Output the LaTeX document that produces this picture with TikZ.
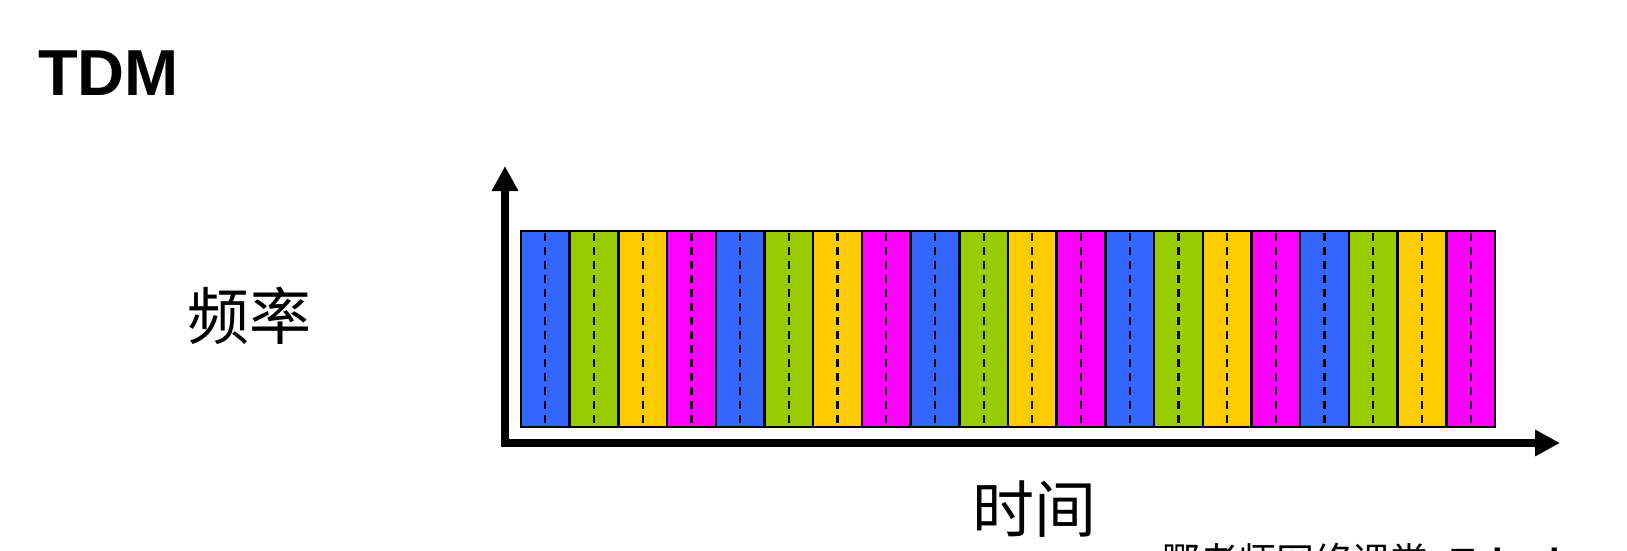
\documentclass[tikz,border=0pt]{standalone}
\usepackage{fontspec}
\setmainfont{Liberation Sans}
\newfontfamily\cjk{Noto Sans CJK SC}
\usetikzlibrary{arrows.meta}
\definecolor{cblue}{HTML}{3366FF}
\definecolor{cgreen}{HTML}{99CC00}
\definecolor{cyellow}{HTML}{FFCC00}
\definecolor{cmag}{HTML}{FF00FF}
\tikzset{
  slotbox/.style={draw=black, line width=2.5pt},
  slotdash/.style={draw=black, line width=2.2pt, dash pattern=on 8pt off 6pt},
  axisline/.style={line width=8pt, -{Triangle[length=25pt,width=25pt]}},
  cjklabel/.style={font=\cjk\fontsize{62}{62}\selectfont, inner sep=0pt, anchor=base},
}
\begin{document}
\begin{tikzpicture}[x=1pt,y=-1pt]
\useasboundingbox (0,0) rectangle (1627,550);
\clip (0,0) rectangle (1627,550);
% title
\node[font=\bfseries\fontsize{65}{65}\selectfont, inner sep=0pt, anchor=base west] (title) at (38,95) {TDM};
% slots
\foreach \i/\c in {0/cblue,1/cgreen,2/cyellow,3/cmag,4/cblue,5/cgreen,6/cyellow,7/cmag,8/cblue,9/cgreen,10/cyellow,11/cmag,12/cblue,13/cgreen,14/cyellow,15/cmag,16/cblue,17/cgreen,18/cyellow,19/cmag}{
  \pgfmathsetmacro{\xa}{521+48.7*\i}
  \pgfmathsetmacro{\xb}{521+48.7*(\i+1)}
  \pgfmathsetmacro{\xm}{521+48.7*(\i+0.5)}
  \path[slotbox, fill=\c] (\xa,231) rectangle (\xb,427);
  \draw[slotdash] (\xm,233) -- (\xm,425);
}
% axes
\coordinate (origin) at (505,443);
\coordinate (ytip) at (505,166);
\coordinate (xtip) at (1560,443);
\draw[axisline] ([yshift=4pt]origin) -- (ytip);
\draw[axisline] ([xshift=-4pt]origin) -- (xtip);
% labels
\node[cjklabel] (freq) at (249,339) {频率};
\node[cjklabel] (time) at (1034,532) {时间};
\node[font=\cjk\fontsize{38}{38}\selectfont, inner sep=0pt, anchor=base west] (foot) at (1162,575) {鄂老师网络课堂\hspace{0.6em}{\rmfamily\bfseries Tsinghua}};
\end{tikzpicture}
\end{document}
